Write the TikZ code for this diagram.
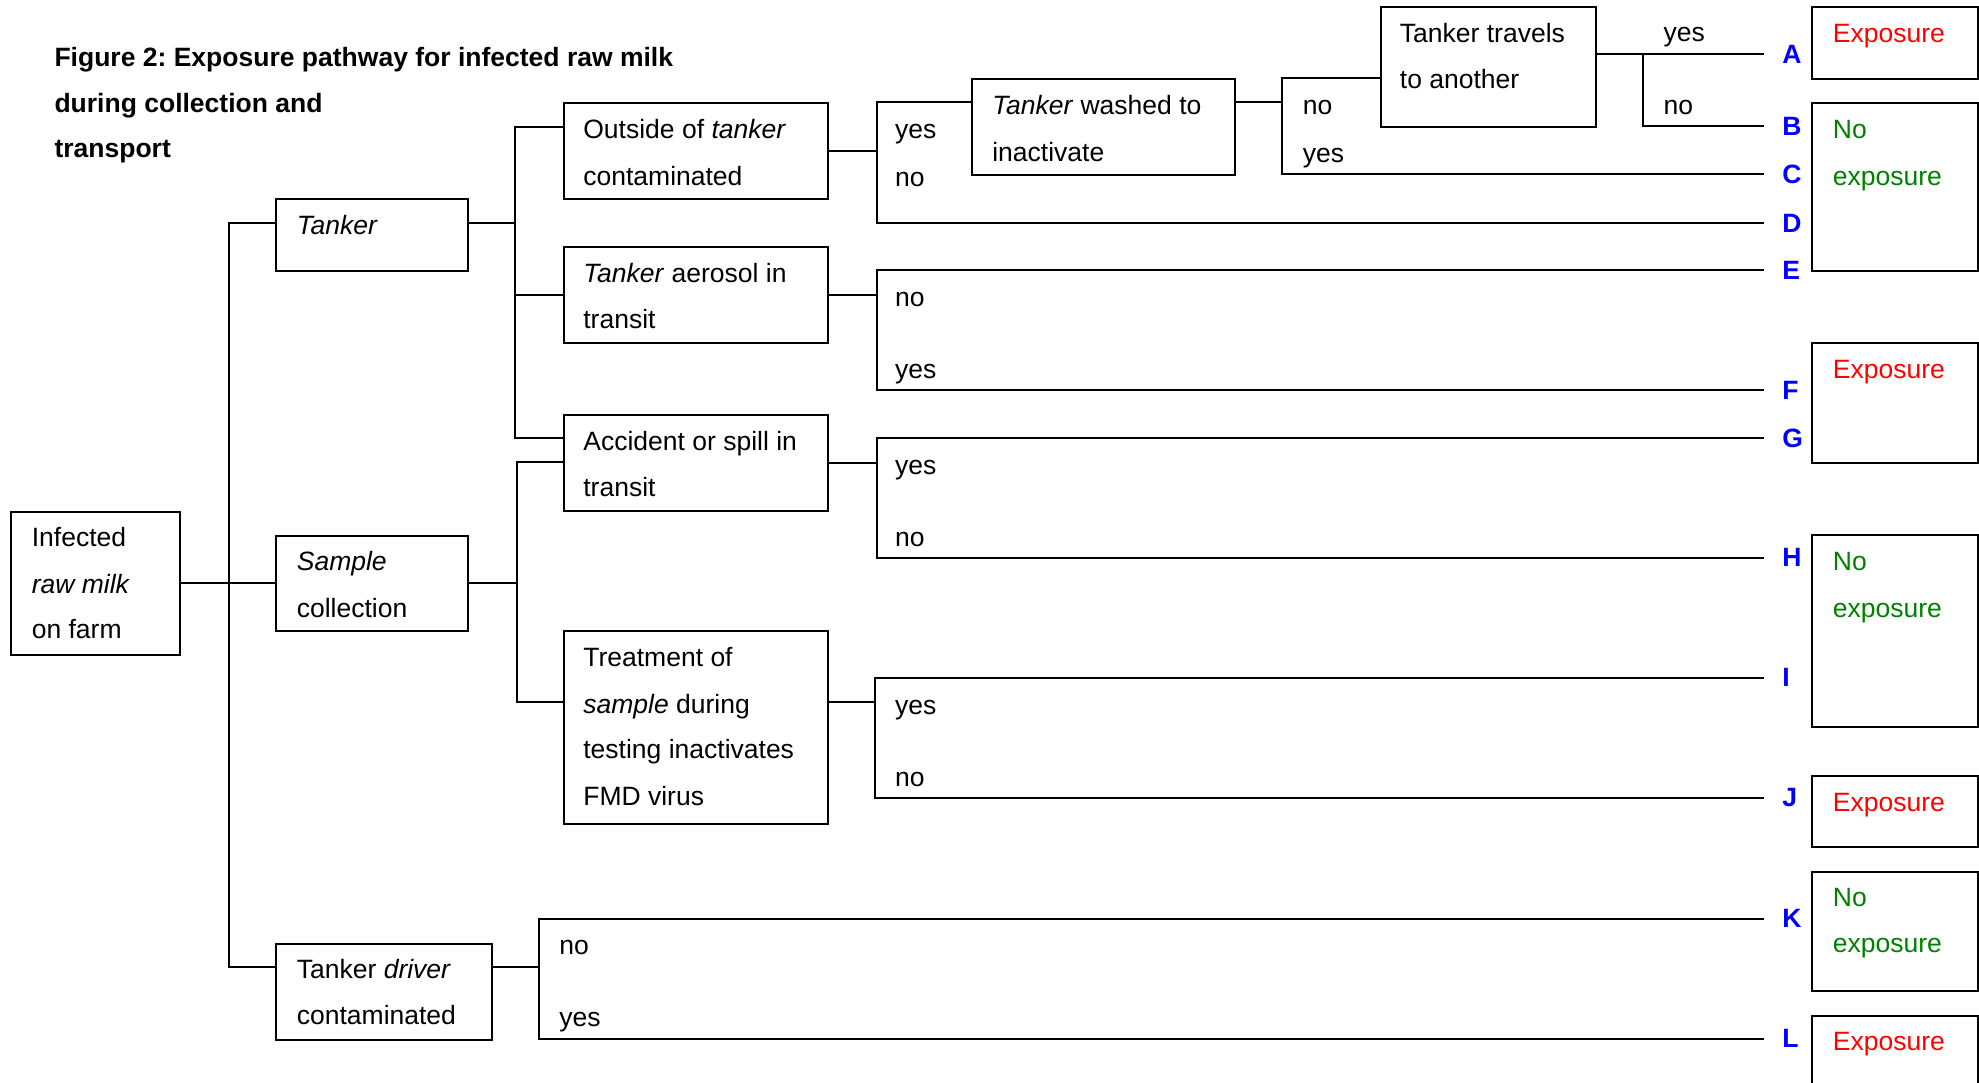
\documentclass[tikz,border=0pt]{standalone}
\usepackage{fontspec}
\setmainfont{Liberation Sans}
\usetikzlibrary{calc}
\frenchspacing
\definecolor{expred}{RGB}{255,0,0}
\definecolor{noexp}{RGB}{0,128,0}
\definecolor{letblue}{RGB}{0,0,255}
\begin{document}
\begin{tikzpicture}[x=1pt,y=-1pt,
  box/.style={draw=black, line width=1.6pt, rectangle, inner sep=0pt, anchor=north west},
  txt/.style={anchor=base west, inner sep=0pt, yshift=-1pt, font=\fontsize{21pt}{25pt}\selectfont},
  ttl/.style={anchor=base west, inner sep=0pt, yshift=-1pt, font=\fontsize{21pt}{25pt}\selectfont\bfseries},
  redt/.style={txt, text=expred},
  grnt/.style={txt, text=noexp},
  lbl/.style={anchor=west, inner sep=0pt, font=\fontsize{21pt}{25pt}\selectfont\bfseries, text=letblue},
  conn/.style={line width=1.6pt},
]
\useasboundingbox (0,0) rectangle (1568,858);
\clip (0,0) rectangle (1568,858);

% title
\node[ttl] (title1) at (43,52) {Figure 2: Exposure pathway for infected raw milk};
\node[ttl] (title2) at (43,88) {during collection and};
\node[ttl] (title3) at (43,124) {transport};

% boxes
\node[box, minimum width=134pt, minimum height=113pt] (infected) at (8,405) {};
\node[box, minimum width=152pt, minimum height=57pt] (tanker) at (218,157) {};
\node[box, minimum width=152pt, minimum height=75pt] (sample) at (218,424) {};
\node[box, minimum width=171pt, minimum height=76pt] (driver) at (218,747) {};
\node[box, minimum width=209pt, minimum height=76pt] (outside) at (446,81) {};
\node[box, minimum width=209pt, minimum height=76pt] (aerosol) at (446,195) {};
\node[box, minimum width=209pt, minimum height=76pt] (accident) at (446,328) {};
\node[box, minimum width=209pt, minimum height=153pt] (treatment) at (446,499) {};
\node[box, minimum width=209pt, minimum height=76pt] (washed) at (769,62) {};
\node[box, minimum width=171pt, minimum height=95pt] (travels) at (1093,5) {};
\node[box, minimum width=131.5pt, minimum height=57pt] (outA) at (1435,5) {};
\node[box, minimum width=131.5pt, minimum height=133pt] (outBD) at (1435,81) {};
\node[box, minimum width=131.5pt, minimum height=95pt] (outFG) at (1435,271) {};
\node[box, minimum width=131.5pt, minimum height=152pt] (outHI) at (1435,423) {};
\node[box, minimum width=131.5pt, minimum height=56pt] (outJ) at (1435,614) {};
\node[box, minimum width=131.5pt, minimum height=94pt] (outK) at (1435,690) {};
\node[box, minimum width=131.5pt, minimum height=70pt] (outL) at (1435,804) {};

% box texts
\node[txt] (ti1) at (25,432) {Infected};
\node[txt] (ti2) at (25,469) {\itshape raw milk};
\node[txt] (ti3) at (25,505) {on farm};
\node[txt] (tt1) at (235,185) {\itshape Tanker};
\node[txt] (ts1) at (235,451) {\itshape Sample};
\node[txt] (ts2) at (235,488) {collection};
\node[txt] (td1) at (235,774) {Tanker \textit{driver}};
\node[txt] (td2) at (235,811) {contaminated};
\node[txt] (to1) at (462,109) {Outside of \textit{tanker}};
\node[txt] (to2) at (462,146) {contaminated};
\node[txt] (ta1) at (462,223) {\textit{Tanker} aerosol in};
\node[txt] (ta2) at (462,259) {transit};
\node[txt] (tc1) at (462,356) {Accident or spill in};
\node[txt] (tc2) at (462,392) {transit};
\node[txt] (tr1) at (462,527) {Treatment of};
\node[txt] (tr2) at (462,564) {\textit{sample} during};
\node[txt] (tr3) at (462,600) {testing inactivates};
\node[txt] (tr4) at (462,637) {FMD virus};
\node[txt] (tw1) at (786,90) {\textit{Tanker} washed to};
\node[txt] (tw2) at (786,127) {inactivate};
\node[txt] (tv1) at (1109,33) {Tanker travels};
\node[txt] (tv2) at (1109,69) {to another};

% outcome texts
\node[redt] (eA) at (1452,33) {Exposure};
\node[grnt] (nB1) at (1452,109) {No};
\node[grnt] (nB2) at (1452,146) {exposure};
\node[redt] (eF) at (1452,299) {Exposure};
\node[grnt] (nH1) at (1452,451) {No};
\node[grnt] (nH2) at (1452,488) {exposure};
\node[redt] (eJ) at (1452,642) {Exposure};
\node[grnt] (nK1) at (1452,717) {No};
\node[grnt] (nK2) at (1452,754) {exposure};
\node[redt] (eL) at (1452,831) {Exposure};

% yes / no labels
\node[txt] (l1) at (709,109) {yes};
\node[txt] (l2) at (709,147) {no};
\node[txt] (l3) at (1032,90) {no};
\node[txt] (l4) at (1032,128) {yes};
\node[txt] (l5) at (1318,32) {yes};
\node[txt] (l6) at (1318,90) {no};
\node[txt] (l7) at (709,242) {no};
\node[txt] (l8) at (709,299) {yes};
\node[txt] (l9) at (709,375) {yes};
\node[txt] (l10) at (709,432) {no};
\node[txt] (l11) at (709,565) {yes};
\node[txt] (l12) at (709,622) {no};
\node[txt] (l13) at (443,755) {no};
\node[txt] (l14) at (443,812) {yes};

% letters
\node[lbl] (A) at (1412,43) {A};
\node[lbl] (B) at (1412,100) {B};
\node[lbl] (C) at (1412,138) {C};
\node[lbl] (D) at (1412,177) {D};
\node[lbl] (E) at (1412,214) {E};
\node[lbl] (F) at (1412,309) {F};
\node[lbl] (G) at (1412,347) {G};
\node[lbl] (H) at (1412,442) {H};
\node[lbl] (I) at (1412,537) {I};
\node[lbl] (J) at (1412,632) {J};
\node[lbl] (K) at (1412,728) {K};
\node[lbl] (L) at (1412,823) {L};
\foreach \n in {A,B,C,D,E,F,G,H,I,J,K,L}{
  \coordinate (\n-end) at ([xshift=-14pt]\n.west);
}

% junctions
\coordinate (j0) at ($(infected.east)+(38,0)$);
\coordinate (j1) at (408,177);
\coordinate (j2) at ($(sample.east)+(38,0)$);
\coordinate (j3) at ($(outside.east)+(38,0)$);
\coordinate (j4) at (1016,81);
\coordinate (j5) at (1302,43);
\coordinate (j6) at ($(aerosol.east)+(38,0)$);
\coordinate (j7) at ($(accident.east)+(38,0)$);
\coordinate (j8) at (693,556);
\coordinate (j9) at (427,766);

% connectors
\draw[conn] (infected.east) -- (j0);
\draw[conn] (tanker.west |- 0,177) -| (j0) |- (driver.west |- 0,766);
\draw[conn] (j0) -- (sample.west);

\draw[conn] (tanker.east |- 0,177) -- (j1);
\draw[conn] (outside.west |- 0,101) -| (j1) |- (accident.west |- 0,347);
\draw[conn] (j1 |- aerosol.west) -- (aerosol.west);

\draw[conn] (sample.east) -- (j2);
\draw[conn] (accident.west |- 0,366) -| (j2) |- (treatment.west |- 0,556);

\draw[conn] (outside.east) -- (j3);
\draw[conn] (washed.west |- 0,81) -| (j3) |- (D-end);

\draw[conn] (washed.east |- 0,81) -- (j4);
\draw[conn] (travels.west |- 0,62) -| (j4) |- (C-end);

\draw[conn] (travels.east |- 0,43) -- (A-end);
\draw[conn] (j5) |- (B-end);

\draw[conn] (aerosol.east) -- (j6);
\draw[conn] (E-end) -| (j6) |- (F-end);

\draw[conn] (accident.east) -- (j7);
\draw[conn] (G-end) -| (j7) |- (H-end);

\draw[conn] (treatment.east |- 0,556) -- (j8);
\draw[conn] (I-end) -| (j8) |- (J-end);

\draw[conn] (driver.east |- 0,766) -- (j9);
\draw[conn] (K-end) -| (j9) |- (L-end);
\end{tikzpicture}
\end{document}
